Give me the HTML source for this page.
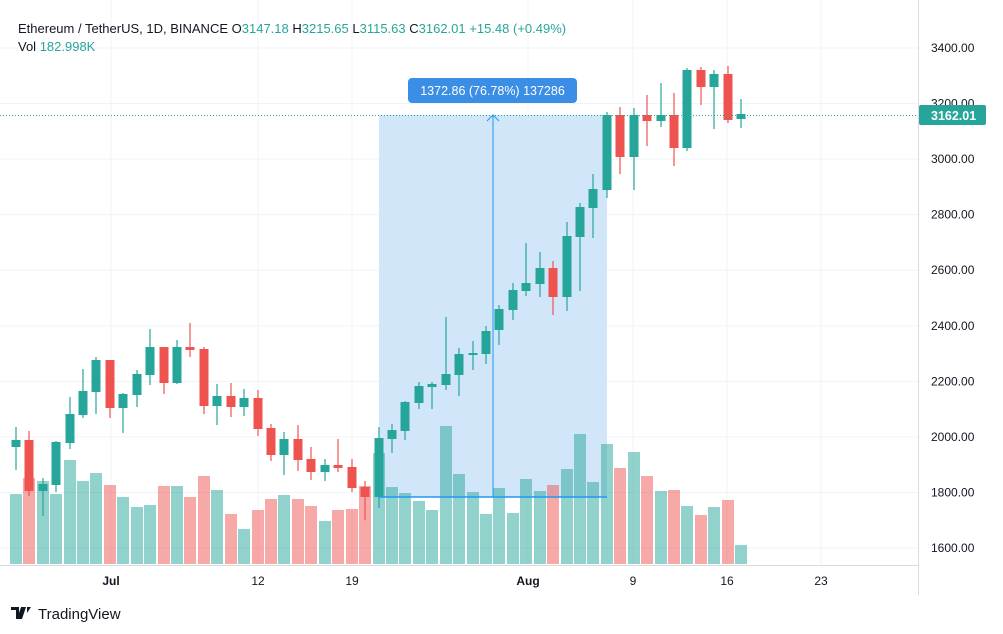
<!DOCTYPE html>
<html><head><meta charset="utf-8"><style>
html,body{margin:0;padding:0;background:#fff;}
body{width:1003px;height:634px;overflow:hidden;font-family:"Liberation Sans",sans-serif;}
</style></head><body>
<svg id="c" width="1003" height="634" xmlns="http://www.w3.org/2000/svg" style="position:absolute;left:0;top:0">
<g id="grid" stroke="#f0f3fa" stroke-width="1"></g>
<rect x="379" y="115" width="228" height="382" fill="#d2e6fa"/>
<g id="vol"></g>
<g id="cnd"></g>
<line x1="379" y1="497" x2="607" y2="497" stroke="#2196f3" stroke-width="1.5"/>
<line x1="493" y1="497" x2="493" y2="115" stroke="#2196f3" stroke-width="1"/>
<polyline points="487,121 493,115 499,121" fill="none" stroke="#2196f3" stroke-width="1"/>
<line x1="0" y1="115.5" x2="918" y2="115.5" stroke="#26a69a" stroke-width="1" stroke-dasharray="1,2"/>
<rect x="408" y="78" width="169" height="25" rx="4" fill="#3a8ee6"/>
<text x="492.5" y="95" text-anchor="middle" font-size="12.5" fill="#fff" font-family="Liberation Sans, sans-serif">1372.86 (76.78%) 137286</text>
<line x1="918.5" y1="0" x2="918.5" y2="595" stroke="#d9dbe0"/>
<line x1="0" y1="565.5" x2="918" y2="565.5" stroke="#d9dbe0"/>
<g id="ax" font-size="12" fill="#131722" font-family="Liberation Sans, sans-serif"></g>
<rect x="919" y="105" width="67" height="20" rx="2" fill="#26a69a"/>
<text x="931" y="120" font-size="12.5" font-weight="bold" fill="#fff" font-family="Liberation Sans, sans-serif">3162.01</text>
<g font-size="12" fill="#131722" font-family="Liberation Sans, sans-serif" text-anchor="middle">
<text x="111" y="585" font-weight="bold">Jul</text>
<text x="258" y="585">12</text>
<text x="352" y="585">19</text>
<text x="528" y="585" font-weight="bold">Aug</text>
<text x="633" y="585">9</text>
<text x="727" y="585">16</text>
<text x="821" y="585">23</text>
</g>
<g font-size="13" font-family="Liberation Sans, sans-serif">
<text x="18" y="33" fill="#131722">Ethereum / TetherUS, 1D, BINANCE <tspan>O</tspan><tspan fill="#26a69a">3147.18</tspan> H<tspan fill="#26a69a">3215.65</tspan> L<tspan fill="#26a69a">3115.63</tspan> C<tspan fill="#26a69a">3162.01</tspan> <tspan fill="#26a69a">+15.48 (+0.49%)</tspan></text>
<text x="18" y="51" fill="#131722">Vol <tspan fill="#26a69a">182.998K</tspan></text>
</g>
<g transform="translate(11,607)">
<path d="M0 0h8v12h-3v-9h-5z M10 0h5l-4 12h-5z M16 0h4l-4 6z" fill="#131722"/>
</g>
<text x="38" y="619" font-size="15" fill="#131722" font-family="Liberation Sans, sans-serif">TradingView</text>
</svg>
<script>
var ns="http://www.w3.org/2000/svg";
function el(p,t,a){var e=document.createElementNS(ns,t);for(var k in a)e.setAttribute(k,a[k]);p.appendChild(e);return e;}
var grid=document.getElementById('grid'),ax=document.getElementById('ax');
for(var i=0;i<10;i++){var y=48+i*55.56;el(grid,'line',{x1:0,y1:y,x2:918,y2:y});
 if(i<10){var t=el(ax,'text',{x:931,y:y+4});t.textContent=(3400-i*200).toFixed(2);}}
[111,258,352,528,633,727,821].forEach(function(x){el(grid,'line',{x1:x,y1:0,x2:x,y2:565});});
var D=[
[16,440,447,427,470,'g',494],[29,440,491,431,496,'r',478],[43,484,491,478,516,'g',481],[56,442,485,441,492,'g',494],
[70,414,443,397,449,'g',460],[83,391,415,369,418,'g',481],[96,360,392,357,414,'g',473],[110,360,408,360,418,'r',485],
[123,394,408,393,433,'g',497],[137,374,395,370,407,'g',507],[150,347,375,329,385,'g',505],[164,347,383,347,394,'r',486],
[177,347,383,340,384,'g',486],[190,347,350,323,357,'r',497],[204,349,406,347,414,'r',476],[217,396,406,384,425,'g',490],
[231,396,407,383,417,'r',514],[244,398,407,389,416,'g',529],[258,398,429,390,436,'r',510],[271,428,455,424,461,'r',499],
[284,439,455,432,475,'g',495],[298,439,460,425,471,'r',499],[311,459,472,447,480,'r',506],[325,465,472,459,481,'g',521],
[338,465,468,439,472,'r',510],[352,467,488,459,492,'r',509],[365,487,497,481,520,'r',486],[379,438,497,427,508,'g',453],
[392,430,439,424,453,'g',487],[405,402,431,401,440,'g',493],[419,386,403,382,409,'g',501],[432,384,387,382,409,'g',510],
[446,374,385,317,390,'g',426],[459,354,375,348,396,'g',474],[473,353,355,341,370,'g',492],[486,331,354,326,364,'g',514],
[499,309,330,305,345,'g',488],[513,290,310,283,320,'g',513],[526,283,291,243,296,'g',479],[540,268,284,252,297,'g',491],
[553,268,297,261,315,'r',485],[567,236,297,222,311,'g',469],[580,207,237,203,291,'g',434],[593,189,208,174,238,'g',482],
[607,115,190,112,198,'g',444],[620,115,157,107,174,'r',468],[634,115,157,108,190,'g',452],[647,115,121,95,146,'r',476],
[661,115,121,83,127,'g',491],[674,115,148,93,166,'r',490],[687,70,148,68,151,'g',506],[701,70,87,67,105,'r',515],
[714,74,87,70,129,'g',507],[728,74,120,66,123,'r',500],[741,114,119,99,128,'g',545]];
var vol=document.getElementById('vol'),cnd=document.getElementById('cnd');
D.forEach(function(d){var x=d[0],g=d[5]=='g';
 el(vol,'rect',{x:x-6,y:d[6],width:12,height:564-d[6],fill:g?'rgba(38,166,154,0.5)':'rgba(239,83,80,0.5)'});
 var c=g?'#26a69a':'#ef5350';
 el(cnd,'line',{x1:x,y1:d[3],x2:x,y2:d[4],stroke:c,'stroke-width':1.2});
 el(cnd,'rect',{x:x-4.5,y:d[1],width:9,height:Math.max(1.5,d[2]-d[1]),fill:c});});
</script>
</body></html>
